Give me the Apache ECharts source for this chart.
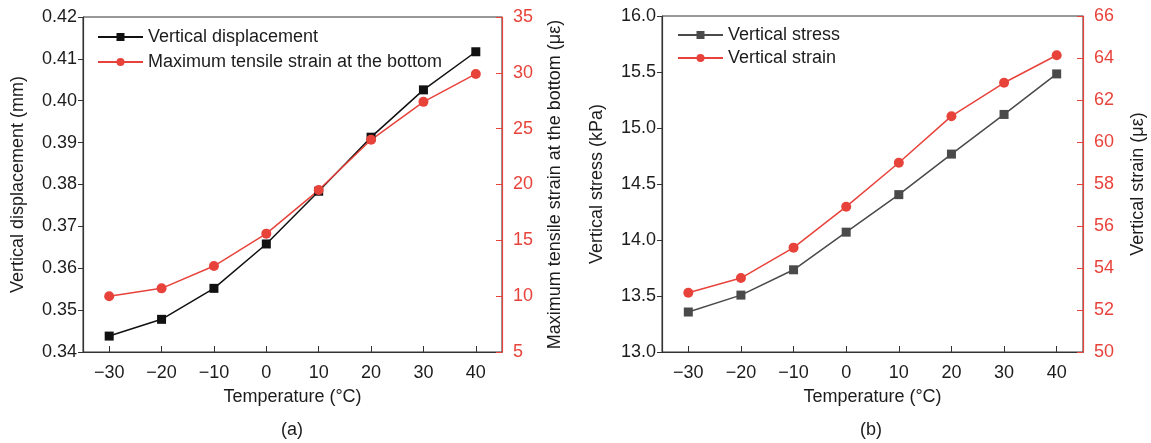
<!DOCTYPE html>
<html>
<head>
<meta charset="utf-8">
<script src="https://cdn.jsdelivr.net/npm/echarts@6/dist/echarts.min.js"></script>
<style>
  html, body { margin: 0; padding: 0; background: #ffffff; }
  #chart { width: 1151px; height: 443px; }
</style>
</head>
<body>
<div id="chart"></div>
<script>
// Temperature steps (°C) shared by both panels
const temperatures = [-30, -20, -10, 0, 10, 20, 30, 40];

// Panel (a)
const verticalDisplacement = [0.3438, 0.3478, 0.3552, 0.3658, 0.3784, 0.3913, 0.4026, 0.4117];
const maxTensileStrain = [10.0, 10.7, 12.7, 15.6, 19.5, 24.0, 27.4, 29.9];

// Panel (b)
const verticalStress = [13.357, 13.508, 13.734, 14.07, 14.405, 14.767, 15.121, 15.483];
const verticalStrain = [52.82, 53.52, 54.97, 56.92, 59.01, 61.23, 62.82, 64.13];

const xTicks = [-30, -20, -10, 0, 10, 20, 30, 40];

const RED = '#e8433b';
const INK = '#1c1c1c';
const FONT = 'Liberation Sans, Arial, sans-serif';

const pairs = (ys) => temperatures.map((t, i) => [t, ys[i]]);
const minus = (v) => (v < 0 ? '\u2212' + Math.abs(v) : String(v));

function xAxisFor(gridIndex) {
  return {
    type: 'value', gridIndex, min: -35, max: 45,
    name: 'Temperature (°C)', nameLocation: 'middle', nameGap: 36,
    nameTextStyle: { color: INK, fontSize: 18, fontFamily: FONT },
    axisLine: { show: true, onZero: false, lineStyle: { color: '#333', width: 1.2 } },
    axisTick: { show: true, inside: true, length: 6, customValues: xTicks, lineStyle: { color: '#333' } },
    axisLabel: { customValues: xTicks, formatter: minus, color: INK, fontSize: 18, fontFamily: FONT, margin: 12 },
    splitLine: { show: false }
  };
}

function leftAxis(gridIndex, name, min, max, interval, digits, gap) {
  return {
    type: 'value', gridIndex, position: 'left', min, max, interval,
    name, nameLocation: 'middle', nameGap: gap,
    nameTextStyle: { color: INK, fontSize: 18, fontFamily: FONT },
    axisLine: { show: true, onZero: false, lineStyle: { color: '#333', width: 1.2 } },
    axisTick: { show: true, inside: false, length: 5, lineStyle: { color: '#333' } },
    axisLabel: { formatter: (v) => v.toFixed(digits), color: INK, fontSize: 18, fontFamily: FONT, margin: 6 },
    splitLine: { show: false }
  };
}

function rightAxis(gridIndex, name, min, max, interval, gap) {
  return {
    type: 'value', gridIndex, position: 'right', min, max, interval,
    name, nameLocation: 'middle', nameGap: gap,
    nameTextStyle: { color: INK, fontSize: 18, fontFamily: FONT },
    axisLine: { show: true, onZero: false, lineStyle: { color: RED, width: 1.2 } },
    axisTick: { show: true, inside: true, length: 6, lineStyle: { color: RED } },
    axisLabel: { color: RED, fontSize: 18, fontFamily: FONT, margin: 11 },
    splitLine: { show: false }
  };
}

function lineSeries(name, data, xi, yi, color, symbol, size) {
  return {
    name, type: 'line', xAxisIndex: xi, yAxisIndex: yi, data,
    symbol, symbolSize: size, showSymbol: true,
    lineStyle: { color, width: 1.5 },
    itemStyle: { color },
    animation: false
  };
}

const chart = echarts.init(document.getElementById('chart'), null, { renderer: 'canvas' });

chart.setOption({
  backgroundColor: '#ffffff',
  animation: false,
  grid: [
    { left: 83, top: 17, width: 419, height: 335, show: true, borderColor: '#333', borderWidth: 1, backgroundColor: 'transparent' },
    { left: 662, top: 16, width: 421, height: 336, show: true, borderColor: '#333', borderWidth: 1, backgroundColor: 'transparent' }
  ],
  legend: [
    {
      orient: 'vertical', left: 92, top: 23, itemWidth: 45, itemHeight: 10, itemGap: 7,
      textStyle: { color: INK, fontSize: 18, fontFamily: FONT },
      data: ['Vertical displacement', 'Maximum tensile strain at the bottom']
    },
    {
      orient: 'vertical', left: 672, top: 21, itemWidth: 45, itemHeight: 10, itemGap: 5,
      textStyle: { color: INK, fontSize: 18, fontFamily: FONT },
      data: ['Vertical stress', 'Vertical strain']
    }
  ],
  xAxis: [xAxisFor(0), xAxisFor(1)],
  yAxis: [
    leftAxis(0, 'Vertical displacement (mm)', 0.34, 0.42, 0.01, 2, 56),
    rightAxis(0, 'Maximum tensile strain at the bottom (με)', 5, 35, 5, 44),
    leftAxis(1, 'Vertical stress (kPa)', 13.0, 16.0, 0.5, 1, 56),
    rightAxis(1, 'Vertical strain (με)', 50, 66, 2, 46)
  ],
  series: [
    lineSeries('Vertical displacement', pairs(verticalDisplacement), 0, 0, '#111111', 'rect', 9),
    lineSeries('Maximum tensile strain at the bottom', pairs(maxTensileStrain), 0, 1, RED, 'circle', 10),
    lineSeries('Vertical stress', pairs(verticalStress), 1, 2, '#4a4a4a', 'rect', 9),
    lineSeries('Vertical strain', pairs(verticalStrain), 1, 3, RED, 'circle', 10)
  ],
  graphic: [
    { type: 'text', left: 281, top: 421, style: { text: '(a)', fill: INK, font: '18px ' + FONT } },
    { type: 'text', left: 860, top: 421, style: { text: '(b)', fill: INK, font: '18px ' + FONT } }
  ]
});
</script>
</body>
</html>
